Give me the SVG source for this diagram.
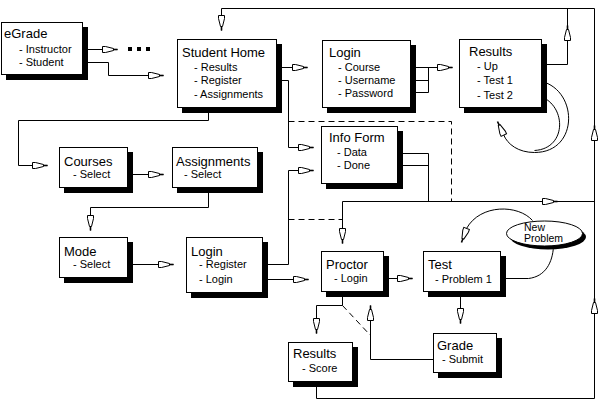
<svg xmlns="http://www.w3.org/2000/svg" xmlns:xlink="http://www.w3.org/1999/xlink" width="608" height="407" viewBox="0 0 608 407">
<style>
.box{fill:#fff;stroke:#000;stroke-width:1}
.sh{fill:#000}
.t{font-family:"Liberation Sans",Arial,sans-serif;font-size:13px;fill:#000}
.i{font-family:"Liberation Sans",Arial,sans-serif;font-size:11px;fill:#000}
.s{font-family:"Liberation Sans",Arial,sans-serif;font-size:10.5px;fill:#000}
.c{fill:none;stroke:#000;stroke-width:1}
.d{fill:none;stroke:#000;stroke-width:1;stroke-dasharray:6,4}
</style>
<defs>
<g id="ah"><path d="M-15,-3 H-12 L-4,-1 V1 L-12,3 H-15 Z" fill="#fff" stroke="#000" stroke-width="1"/><path d="M-4,0 H0" stroke="#000" stroke-width="1.6"/></g>
</defs>
<rect width="608" height="407" fill="#fff"/>
<g id="connectors" transform="translate(0.5,0.5)">
<path class="d" d="M288,121 H451 V201"/>
<path class="d" d="M288,219 H342"/>
<path class="d" d="M342,305 L370,335"/>
<path class="c" d="M77,49 H117"/>
<path class="c" d="M68,62 H108 V75 H163"/>
<path class="c" d="M245,67 H307"/>
<path class="c" d="M249,80 H288 V147 H313"/>
<path class="c" d="M208,102 V120 H18 V165 H47"/>
<path class="c" d="M118,174 H163"/>
<path class="c" d="M208,185 V207 H90 V230"/>
<path class="c" d="M118,264 H173"/>
<path class="c" d="M254,264 H288 V170 H313"/>
<path class="c" d="M239,279 H308"/>
<path class="c" d="M385,67 H452 M400,80 H428 M400,92 H428 M428,67 V92"/>
<path class="c" d="M506,64 H567 V8"/>
<path class="c" d="M379,153 H428 V201 M379,165 H428"/>
<path class="c" d="M342,243 V201 H594"/>
<path class="c" d="M316,381 V398 H594 V8 H221 V30"/>
<path class="c" d="M375,278 H412"/>
<path class="c" d="M342,291 V305 H316 V333"/>
<path class="c" d="M442,359 H370 V305"/>
<path class="c" d="M460,291 V323"/>
<path class="c" d="M498,278 H528 C545,276 552,262 553,246"/>
<path class="c" d="M532,220 C518,204 480,203 466,228"/>
<path class="c" d="M523,80 H537 C578,86 580,152 534,152 C518,152 507,144 503,134"/>
<path class="c" d="M523,95 H537 C566,102 568,148 534,150"/>
<use xlink:href="#ah" transform="translate(117,49)"/>
<use xlink:href="#ah" transform="translate(163,75)"/>
<use xlink:href="#ah" transform="translate(307,67)"/>
<use xlink:href="#ah" transform="translate(313,147)"/>
<use xlink:href="#ah" transform="translate(47,165)"/>
<use xlink:href="#ah" transform="translate(163,174)"/>
<use xlink:href="#ah" transform="translate(90,230) rotate(90)"/>
<use xlink:href="#ah" transform="translate(173,264)"/>
<use xlink:href="#ah" transform="translate(313,170)"/>
<use xlink:href="#ah" transform="translate(308,279)"/>
<use xlink:href="#ah" transform="translate(452,67)"/>
<use xlink:href="#ah" transform="translate(567,25) rotate(-90)"/>
<use xlink:href="#ah" transform="translate(342,243) rotate(90)"/>
<use xlink:href="#ah" transform="translate(557,201)"/>
<use xlink:href="#ah" transform="translate(221,30) rotate(90)"/>
<use xlink:href="#ah" transform="translate(594,125) rotate(-90)"/>
<use xlink:href="#ah" transform="translate(594,298) rotate(-90)"/>
<use xlink:href="#ah" transform="translate(412,278)"/>
<use xlink:href="#ah" transform="translate(316,333) rotate(90)"/>
<use xlink:href="#ah" transform="translate(370,305) rotate(-90)"/>
<use xlink:href="#ah" transform="translate(460,323) rotate(90)"/>
<use xlink:href="#ah" transform="translate(461,242) rotate(110)"/>
<use xlink:href="#ah" transform="translate(497,121) rotate(-115)"/>
</g>
<g id="dots">
<rect x="128" y="47" width="4" height="4"/>
<rect x="137" y="47" width="4" height="4"/>
<rect x="146" y="47" width="4" height="4"/>
</g>
<g id="egrade">
<rect class="sh" x="6" y="27" width="82" height="53"/>
<rect class="box" x="1.5" y="22.5" width="81" height="52"/>
<text class="t" x="4" y="38">eGrade</text>
<text class="i" x="19" y="53">- Instructor</text>
<text class="i" x="19" y="66">- Student</text>
</g>
<g id="student-home">
<rect class="sh" x="182" y="44" width="100" height="69"/>
<rect class="box" x="177.5" y="39.5" width="99" height="68"/>
<text class="t" x="182" y="57">Student Home</text>
<text class="i" x="194" y="71">- Results</text>
<text class="i" x="194" y="84">- Register</text>
<text class="i" x="194" y="98">- Assignments</text>
</g>
<g id="login-top">
<rect class="sh" x="327" y="45" width="89" height="68"/>
<rect class="box" x="322.5" y="40.5" width="88" height="67"/>
<text class="t" x="329" y="57">Login</text>
<text class="i" x="338" y="71">- Course</text>
<text class="i" x="338" y="84">- Username</text>
<text class="i" x="338" y="97">- Password</text>
</g>
<g id="results-top">
<rect class="sh" x="464" y="44" width="83" height="69"/>
<rect class="box" x="459.5" y="39.5" width="82" height="68"/>
<text class="t" x="469" y="56">Results</text>
<text class="i" x="477" y="70">- Up</text>
<text class="i" x="477" y="84">- Test 1</text>
<text class="i" x="477" y="99">- Test 2</text>
</g>
<g id="info-form">
<rect class="sh" x="326" y="131" width="77" height="58"/>
<rect class="box" x="321.5" y="126.5" width="76" height="57"/>
<text class="t" x="329" y="142">Info Form</text>
<text class="i" x="337" y="156">- Data</text>
<text class="i" x="337" y="169">- Done</text>
</g>
<g id="courses">
<rect class="sh" x="64" y="152" width="69" height="41"/>
<rect class="box" x="59.5" y="147.5" width="68" height="40"/>
<text class="t" x="64" y="166">Courses</text>
<text class="i" x="73" y="178">- Select</text>
</g>
<g id="assignments">
<rect class="sh" x="177" y="152" width="86" height="41"/>
<rect class="box" x="172.5" y="147.5" width="85" height="40"/>
<text class="t" x="176" y="166">Assignments</text>
<text class="i" x="184" y="178">- Select</text>
</g>
<g id="mode">
<rect class="sh" x="64" y="242" width="69" height="41"/>
<rect class="box" x="59.5" y="237.5" width="68" height="40"/>
<text class="t" x="64" y="256">Mode</text>
<text class="i" x="73" y="268">- Select</text>
</g>
<g id="login-bottom">
<rect class="sh" x="191" y="242" width="77" height="56"/>
<rect class="box" x="186.5" y="237.5" width="76" height="55"/>
<text class="t" x="191" y="256">Login</text>
<text class="i" x="199" y="268">- Register</text>
<text class="i" x="199" y="283">- Login</text>
</g>
<g id="proctor">
<rect class="sh" x="326" y="256" width="63" height="41"/>
<rect class="box" x="321.5" y="251.5" width="62" height="40"/>
<text class="t" x="326" y="269">Proctor</text>
<text class="i" x="334" y="282">- Login</text>
</g>
<g id="test">
<rect class="sh" x="428" y="256" width="78" height="41"/>
<rect class="box" x="423.5" y="251.5" width="77" height="40"/>
<text class="t" x="428" y="269">Test</text>
<text class="i" x="435" y="283">- Problem 1</text>
</g>
<g id="new-problem">
<ellipse cx="548" cy="237" rx="38" ry="12.5" fill="#000"/>
<ellipse cx="544.5" cy="233.5" rx="38" ry="12.5" fill="#fff" stroke="#000"/>
<text class="s" x="524" y="231">New</text>
<text class="s" x="524" y="242">Problem</text>
</g>
<g id="grade">
<rect class="sh" x="438" y="338" width="64" height="40"/>
<rect class="box" x="433.5" y="333.5" width="63" height="39"/>
<text class="t" x="437" y="350">Grade</text>
<text class="i" x="442" y="363">- Submit</text>
</g>
<g id="results-bottom">
<rect class="sh" x="293" y="347" width="65" height="40"/>
<rect class="box" x="288.5" y="342.5" width="64" height="39"/>
<text class="t" x="293" y="358">Results</text>
<text class="i" x="302" y="372">- Score</text>
</g>
</svg>
